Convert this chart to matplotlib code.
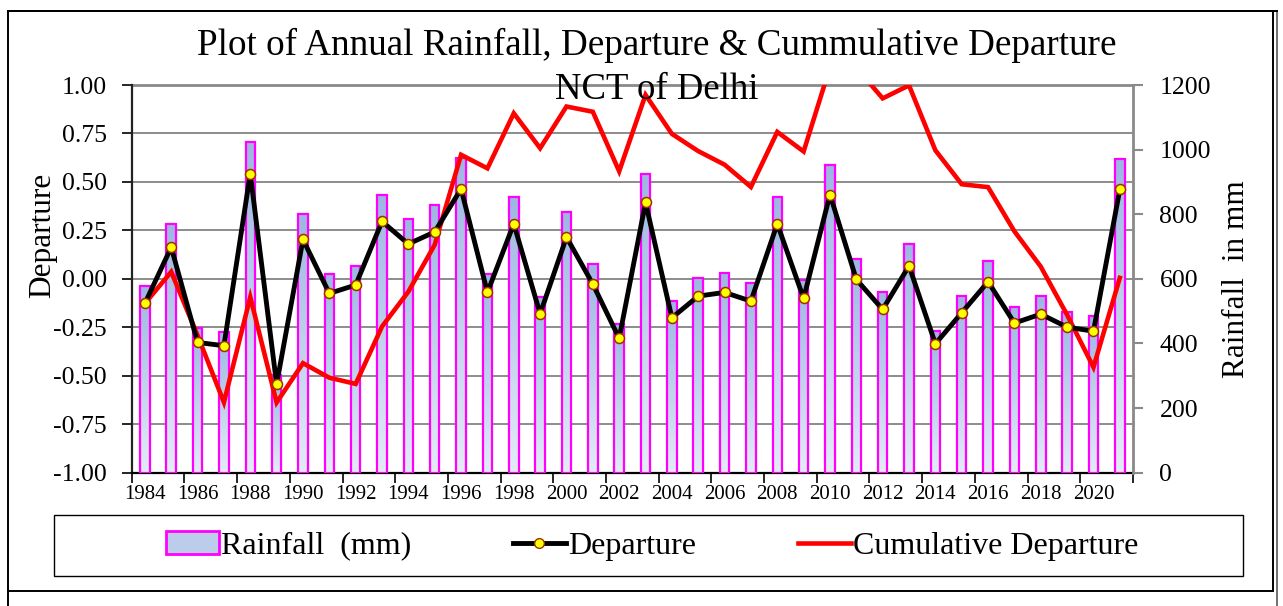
import numpy as np
import matplotlib
matplotlib.use("Agg")
import matplotlib.pyplot as plt
from matplotlib.colors import LinearSegmentedColormap
from matplotlib.patches import Rectangle
from matplotlib.lines import Line2D
from matplotlib.ticker import FixedLocator, FixedFormatter, FormatStrFormatter

plt.rcParams['font.family'] = ['Liberation Serif', 'DejaVu Serif']
plt.rcParams['axes.unicode_minus'] = False

years = list(range(1984, 2022))
rainfall = [578, 771, 447, 434, 1025, 302, 800, 615, 641, 861, 785, 828, 975, 616,
            852, 544, 808, 645, 459, 925, 530, 604, 618, 588, 852, 596, 952, 662,
            558, 708, 439, 547, 656, 513, 546, 498, 486, 972]
departure = [-0.127, 0.163, -0.328, -0.345, 0.543, -0.544, 0.203, -0.075, -0.032,
             0.296, 0.180, 0.242, 0.464, -0.070, 0.284, -0.180, 0.215, -0.027,
             -0.307, 0.394, -0.201, -0.089, -0.070, -0.115, 0.284, -0.101, 0.435,
             -0.003, -0.158, 0.067, -0.335, -0.175, -0.015, -0.228, -0.182, -0.249,
             -0.270, 0.461]
cumulative = [-0.127, 0.036, -0.292, -0.637, -0.094, -0.638, -0.435, -0.510, -0.542,
              -0.246, -0.066, 0.176, 0.640, 0.570, 0.854, 0.674, 0.889, 0.862, 0.555,
              0.949, 0.748, 0.659, 0.589, 0.474, 0.758, 0.657, 1.092, 1.089, 0.931,
              0.998, 0.663, 0.488, 0.473, 0.245, 0.063, -0.186, -0.456, 0.005]
dep_ticks = [-1.0, -0.75, -0.5, -0.25, 0.0, 0.25, 0.5, 0.75, 1.0]
rain_ticks = [0, 200, 400, 600, 800, 1000, 1200]

W, H = 1283, 606
fig = plt.figure(figsize=(W / 100, H / 100), dpi=100)
fig.patch.set_facecolor('white')

L, R, T, B = 131.7, 1133, 85, 472.7
rect = [L / W, 1 - B / H, (R - L) / W, (B - T) / H]

ax = fig.add_axes(rect)          # departure scale, gridlines, bottom
ax2 = ax.twinx()                 # rainfall bars
ax3 = ax.twinx()                 # lines on top
ax.set_zorder(1); ax2.set_zorder(2); ax3.set_zorder(3)
ax2.patch.set_visible(False); ax3.patch.set_visible(False)

x = np.arange(len(years))
ax.set_xlim(-0.5, len(years) - 0.5)
ax.set_ylim(-1, 1)
ax3.set_ylim(-1, 1)
ax2.set_ylim(0, 1200)

# gridlines
for t in dep_ticks[1:]:
    ax.axhline(t, color='#6e6e6e', lw=1.1, zorder=0)

# gradient bars
cmap = LinearSegmentedColormap.from_list('g', ['#e4ebf7', '#9db6e2'])
grad = np.linspace(0, 1, 256).reshape(-1, 1)
bw = 0.36
bars = ax2.bar(x, rainfall, width=bw, facecolor='none', edgecolor='#ff00ff',
               lw=1.6, zorder=3)
for b in bars:
    x0, y0 = b.get_x(), b.get_y()
    w, h = b.get_width(), b.get_height()
    ax2.imshow(grad, cmap=cmap, extent=[x0, x0 + w, y0, y0 + h], origin='lower',
               aspect='auto', zorder=2, interpolation='bilinear')
ax2.set_xlim(-0.5, len(years) - 0.5)
ax2.set_ylim(0, 1200)

# lines
ax3.plot(x, cumulative, color='#ff0000', lw=3.3, zorder=4, solid_joinstyle='miter')
ax3.plot(x, departure, color='black', lw=3.5, zorder=5, marker='o',
         markersize=7.2, markerfacecolor='#ffff00', markeredgecolor='#993300',
         markeredgewidth=1.1)
ax3.set_ylim(-1, 1)
ax3.set_xlim(-0.5, len(years) - 0.5)
ax3.axis('off')

# left axis
ax.yaxis.set_major_locator(FixedLocator(dep_ticks))
ax.yaxis.set_major_formatter(FormatStrFormatter('%.2f'))
ax.tick_params(axis='y', which='major', direction='out', length=7, width=1.2,
               color='black', labelsize=18.5, pad=11)
# x axis
ax.xaxis.set_major_locator(FixedLocator(np.arange(-0.5, len(years), 2)))
ax.xaxis.set_major_formatter(FixedFormatter([''] * 20))
ax.xaxis.set_minor_locator(FixedLocator(x[::2]))
ax.xaxis.set_minor_formatter(FixedFormatter([str(y) for y in years[::2]]))
ax.tick_params(axis='x', which='major', direction='out', length=7, width=1.2,
               color='black')
ax.tick_params(axis='x', which='minor', length=0, labelsize=15, pad=9)

# right axis
ax2.yaxis.set_major_locator(FixedLocator(rain_ticks))
ax2.tick_params(axis='y', direction='out', length=7, width=1.5, color='#8a8a8a',
                labelsize=18.5, pad=12)
ax2.tick_params(axis='x', which='both', length=0, labelbottom=False)

for a in (ax, ax2):
    a.spines['top'].set_visible(False)
ax.spines['left'].set_color('#222222'); ax.spines['left'].set_linewidth(1.6)
ax.spines['bottom'].set_color('black'); ax.spines['bottom'].set_linewidth(1.6)
ax.spines['right'].set_visible(False)
ax2.spines['left'].set_visible(False)
ax2.spines['bottom'].set_visible(False)
ax2.spines['right'].set_color('#8a8a8a'); ax2.spines['right'].set_linewidth(2)
ax.axhline(1.0, color='#8a8a8a', lw=2, zorder=0, clip_on=False)

# titles and labels
fig.text(656.5 / W, 1 - 55 / H, 'Plot of Annual Rainfall, Departure & Cummulative Departure',
         ha='center', va='baseline', fontsize=26.7)
fig.text(656.5 / W, 1 - 99 / H, 'NCT of Delhi', ha='center', va='baseline',
         fontsize=26.5, zorder=10)
fig.text(43 / W, 1 - 235 / H, 'Departure', rotation=90, ha='center', va='center',
         fontsize=22.5)
fig.text(1237 / W, 1 - 279 / H, 'Rainfall  in mm', rotation=90, ha='center',
         va='center', fontsize=22.5)

# legend
handles = [Rectangle((0, 0), 1, 1, facecolor='#bccdec', edgecolor='#ff00ff', lw=2),
           Line2D([], [], color='black', lw=3.5, marker='o', markersize=7,
                  markerfacecolor='#ffff00', markeredgecolor='#993300'),
           Line2D([], [], color='#ff0000', lw=3.3)]
labels = ['Rainfall  (mm)', 'Departure', 'Cumulative Departure']
fig.legend(handles, labels, loc='center', bbox_to_anchor=(652 / W, 1 - 546 / H),
           ncol=3, frameon=False, fontsize=23, handlelength=1.65, handletextpad=0.06,
           columnspacing=3.2, borderpad=0)
fig.add_artist(Rectangle((54 / W, 1 - 576 / H), (1243 - 54) / W, (576 - 515) / H,
                         transform=fig.transFigure, facecolor='none',
                         edgecolor='black', lw=1))

# outer frames
fig.add_artist(Rectangle((8 / W, 1 - 591 / H), (1273 - 8) / W, (591 - 11) / H,
                         transform=fig.transFigure, facecolor='none',
                         edgecolor='black', lw=1.4))
fig.add_artist(Line2D([1277 / W, 1277 / W], [0, 1 - 11 / H], transform=fig.transFigure,
                      color='#707070', lw=1.4))
fig.add_artist(Line2D([8 / W, 8 / W], [0, 1 - 591 / H], transform=fig.transFigure,
                      color='black', lw=1.4))
fig.add_artist(Line2D([8 / W, 1277 / W], [1 - 11 / H, 1 - 11 / H], transform=fig.transFigure,
                      color='black', lw=1.4))

fig.savefig('out.png', dpi=100, facecolor='white')
